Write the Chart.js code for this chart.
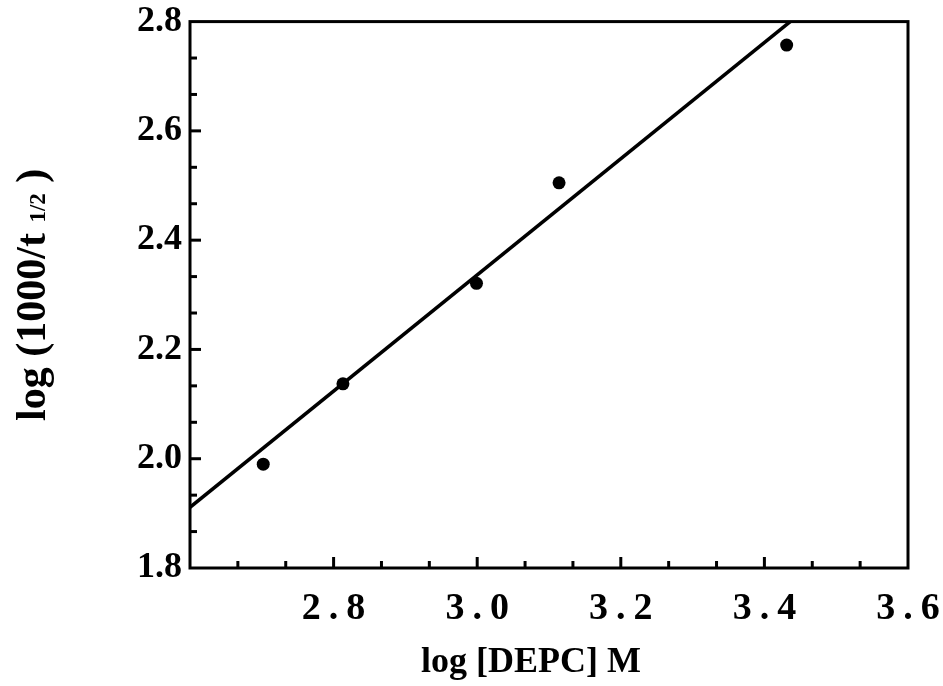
<!DOCTYPE html>
<html>
<head>
<meta charset="utf-8">
<script src="https://cdn.jsdelivr.net/npm/chart.js@4"></script>
<style>
    html, body { margin: 0; padding: 0; background: #fff; }
    #wrap { width: 943px; height: 686px; }
</style>
</head>
<body>
<div id="wrap"><canvas id="chart" width="943" height="686"></canvas></div>
<script>
const depcLog = [2.702, 2.813, 2.999, 3.114, 3.431];
const rateLog = [1.990, 2.137, 2.321, 2.505, 2.757];

// Reta de ajuste - extremos
const fitX = [2.6, 3.436];
const fitY = [1.911, 2.8];

// Rótulos dos eixos
const xTicks = [2.8, 3.0, 3.2, 3.4, 3.6];
const yTicks = [1.8, 2.0, 2.2, 2.4, 2.6, 2.8];

const SERIF = "'Liberation Serif', 'DejaVu Serif', serif";

// Caixa, marcas internas e títulos dos eixos
const framePlugin = {
    id: 'frame',
    beforeDraw: (chart) => {
        // espaçamento entre letras nos rótulos do eixo x ("3 . 0")
        const sx = chart.scales.x;
        if (!sx._spaced) {
            const orig = sx.drawLabels;
            sx.drawLabels = function (area) {
                const ctx = this.ctx;
                ctx.save();
                ctx.letterSpacing = '8px';
                ctx.translate(4, 0);
                orig.call(this, area);
                ctx.restore();
            };
            sx._spaced = true;
        }
    },
    afterDraw: (chart) => {
        const ctx = chart.ctx;
        const a = chart.chartArea;
        const sx = chart.scales.x;
        const sy = chart.scales.y;

        ctx.save();
        ctx.strokeStyle = '#000';
        ctx.lineWidth = 3;
        ctx.strokeRect(a.left, a.top, a.right - a.left, a.bottom - a.top);

        // marcas: 3 divisões por cada 0.2
        const step = 0.2 / 3;
        for (let i = 1; i < 15; i++) {
            const v = 2.6 + i * step;
            const px = sx.getPixelForValue(v);
            const len = i % 3 === 0 ? 11 : 7;
            ctx.beginPath();
            ctx.moveTo(px, a.bottom);
            ctx.lineTo(px, a.bottom - len);
            ctx.stroke();
        }
        for (let i = 1; i < 15; i++) {
            const v = 1.8 + i * step;
            const py = sy.getPixelForValue(v);
            const len = i % 3 === 0 ? 11 : 7;
            ctx.beginPath();
            ctx.moveTo(a.left, py);
            ctx.lineTo(a.left + len, py);
            ctx.stroke();
        }

        // título do eixo x
        ctx.fillStyle = '#000';
        ctx.font = 'bold 36px ' + SERIF;
        ctx.textAlign = 'center';
        ctx.textBaseline = 'alphabetic';
        ctx.fillText('log [DEPC] M', 531, 672);

        // título do eixo y com índice 1/2
        const cy = (a.top + a.bottom) / 2;
        const mainFont = 'bold 42px ' + SERIF;
        const subFont = 'bold 23px ' + SERIF;
        const p1 = 'log (1000/t ';
        const p2 = '1/2';
        const p3 = ' )';
        ctx.font = mainFont;
        const w1 = ctx.measureText(p1).width;
        const w3 = ctx.measureText(p3).width;
        ctx.font = subFont;
        const w2 = ctx.measureText(p2).width;
        const total = w1 + w2 + w3;

        ctx.translate(45, cy);
        ctx.rotate(-Math.PI / 2);
        ctx.textAlign = 'left';
        let x0 = -total / 2;
        ctx.font = mainFont;
        ctx.fillText(p1, x0, 0);
        ctx.font = subFont;
        ctx.fillText(p2, x0 + w1, 0);
        ctx.font = mainFont;
        ctx.fillText(p3, x0 + w1 + w2, 0);
        ctx.restore();
    }
};

new Chart(document.getElementById('chart').getContext('2d'), {
    type: 'scatter',
    data: {
        datasets: [{
            label: 'ajuste',
            data: fitX.map((x, i) => ({ x: x, y: fitY[i] })),
            showLine: true,
            borderColor: '#000',
            borderWidth: 3.5,
            pointRadius: 0,
            order: 2
        }, {
            label: 'pontos',
            data: depcLog.map((x, i) => ({ x: x, y: rateLog[i] })),
            showLine: false,
            backgroundColor: '#000',
            borderWidth: 0,
            pointRadius: 6.5,
            order: 1
        }]
    },
    options: {
        responsive: false,
        animation: false,
        layout: { padding: { top: 10, right: 35, left: 0, bottom: 0 } },
        plugins: {
            legend: { display: false },
            tooltip: { enabled: false }
        },
        scales: {
            x: {
                type: 'linear',
                min: 2.6,
                max: 3.6,
                afterBuildTicks: (scale) => { scale.ticks = xTicks.map(v => ({ value: v })); },
                afterFit: (scale) => { scale.height = 118; },
                grid: { display: false },
                border: { display: false },
                ticks: {
                    color: '#000',
                    font: { family: SERIF, size: 38, weight: 'bold' },
                    padding: 10,
                    maxRotation: 0,
                    autoSkip: false,
                    callback: (v) => Number(v).toFixed(1)
                }
            },
            y: {
                type: 'linear',
                min: 1.8,
                max: 2.8,
                afterBuildTicks: (scale) => { scale.ticks = yTicks.map(v => ({ value: v })); },
                afterFit: (scale) => { scale.width = 190; },
                grid: { display: false },
                border: { display: false },
                ticks: {
                    color: '#000',
                    font: { family: SERIF, size: 36, weight: 'bold' },
                    padding: 0,
                    autoSkip: false,
                    callback: (v) => Number(v).toFixed(1)
                }
            }
        }
    },
    plugins: [framePlugin]
});
</script>
</body>
</html>
